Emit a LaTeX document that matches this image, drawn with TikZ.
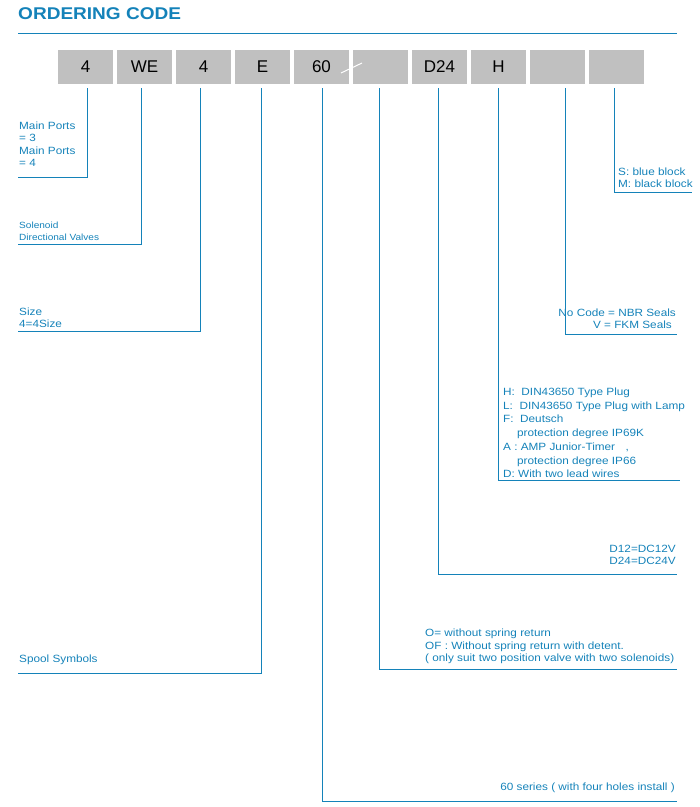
\documentclass[tikz,border=0pt]{standalone}
\usepackage{fontspec}
\setmainfont{Liberation Sans}
\newfontfamily\widefont[FakeStretch=1.12]{Liberation Sans}
\definecolor{codeblue}{RGB}{20,130,185}
\definecolor{boxgray}{RGB}{192,192,192}
\tikzset{
  codebox/.style={fill=boxgray, minimum width=55pt, minimum height=34pt, inner sep=0pt, font=\fontsize{17}{19}\selectfont},
  lead/.style={codeblue, line width=0.6pt},
  note/.style={codeblue, font=\widefont\fontsize{10.5}{12.5}\selectfont, inner sep=1pt, align=left}
}
\begin{document}
\begin{tikzpicture}[x=1pt,y=-1pt]
            \useasboundingbox (0,0) rectangle (700,807);

            % Title and rule
            \node[anchor=west, text=codeblue, font=\widefont\fontsize{17}{19}\selectfont\bfseries, inner sep=0pt] (title) at (18,14) {ORDERING CODE};
            \draw[codeblue, line width=0.8pt] (18,33) -- (677,33);

            % Code boxes
            \foreach \i/\t in {0/4, 1/WE, 2/4, 3/E, 4/60, 5/{}, 6/D24, 7/H, 8/{}, 9/{}} {
                \node[codebox] (b\i) at (85.5+59*\i,67) {\t};
            }
            \draw[white, line width=1pt] (341,73) -- (362,63);

            % Lead lines
            \coordinate (e0) at (87,177);  \coordinate (f0) at (18,177);
            \coordinate (e1) at (141,244); \coordinate (f1) at (18,244);
            \coordinate (e2) at (200,331); \coordinate (f2) at (18,331);
            \coordinate (e3) at (261,673); \coordinate (f3) at (18,673);
            \coordinate (e4) at (322,801); \coordinate (f4) at (677,801);
            \coordinate (e5) at (379,669); \coordinate (f5) at (677,669);
            \coordinate (e6) at (438,574); \coordinate (f6) at (677,574);
            \coordinate (e7) at (498,480); \coordinate (f7) at (680,480);
            \coordinate (e8) at (565,334); \coordinate (f8) at (677,334);
            \coordinate (e9) at (614,192); \coordinate (f9) at (692,192);
            \foreach \i in {0,...,9} {
                \draw[lead] (b\i.south -| e\i) ++(0,4) -- (e\i) -- (f\i);
            }

            % Notes
            \node[note, anchor=south west] (n0) at (18,168) {Main Ports\\= 3\\Main Ports\\= 4};
            \node[note, anchor=south west, font=\widefont\fontsize{9}{12}\selectfont] (n1) at (18,242) {Solenoid\\Directional Valves};
            \node[note, anchor=south west] (n2) at (18,329) {Size\\4=4Size};
            \node[note, anchor=south west] (n3) at (18,666) {Spool Symbols};
            \node[note, anchor=south east, align=right] (n4) at (676,794) {60 series ( with four holes install )};
            \node[note, anchor=south west] (n5) at (424,665) {O= without spring return\\OF : Without spring return with detent.\\( only suit two position valve with two solenoids)};
            \node[note, anchor=south east, align=left] (n6) at (677,566) {D12=DC12V\\D24=DC24V};
            \node[note, anchor=south west, font=\widefont\fontsize{10.5}{13.7}\selectfont] (n7) at (502,479) {H:\ \ DIN43650 Type Plug\\L:\ \ DIN43650 Type Plug with Lamp\\F:\ \ Deutsch\\\hspace*{14pt}protection degree IP69K\\A : AMP Junior-Timer\quad ,\\\hspace*{14pt}protection degree IP66\\D: With two lead wires};
            \node[note, anchor=south east, align=right] (n8) at (677,330) {No Code = NBR Seals\\V = FKM Seals\hspace*{4pt}};
            \node[note, anchor=south west] (n9) at (617,189) {S: blue block\\M: black block};
        \end{tikzpicture}
\end{document}
